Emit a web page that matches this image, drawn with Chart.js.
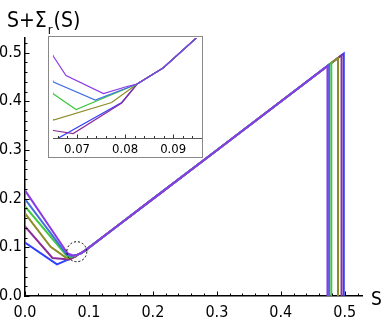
<!DOCTYPE html>
<html><head><meta charset="utf-8">
<script src="https://cdn.jsdelivr.net/npm/chart.js@4.4.0/dist/chart.umd.min.js"></script>
<style>
html,body{margin:0;padding:0;background:#fff;}
#wrap{position:relative;width:382px;height:326px;}
#main{position:absolute;left:0;top:0;}
#inset{position:absolute;left:48px;top:36px;background:#fff;}
</style></head><body>
<div id="wrap">
<canvas id="main" width="382" height="326"></canvas>
<canvas id="inset" width="155" height="122"></canvas>
</div>
<script>
// S + Sigma_r(S) curves
const FONT = "'Liberation Sans Narrow', 'DejaVu Sans Condensed', 'Liberation Sans', sans-serif";

// common branch after the curves meet
const tailS = [0.0825, 0.0879, 0.0948, 0.11, 0.15, 0.2, 0.3, 0.4];
const tailY = [0.085, 0.0882, 0.0942, 0.1095, 0.1495, 0.1995, 0.2995, 0.3995];

// left branches
const violetS = [0, 0.0651, 0.0677, 0.0755, 0.0804];
const violetY = [0.217, 0.0905, 0.0867, 0.0831, 0.0845];
const blue2S  = [0, 0.0651, 0.0738];
const blue2Y  = [0.199, 0.0854, 0.0818];
const greenS  = [0, 0.0651, 0.0698];
const greenY  = [0.184, 0.083, 0.0799];
const oliveS  = [0, 0.04, 0.0651, 0.0772];
const oliveY  = [0.170, 0.101, 0.0778, 0.0813];
const purpleS = [0, 0.043, 0.0651, 0.0692, 0.0793];
const purpleY = [0.143, 0.078, 0.0757, 0.0751, 0.0812];
const blueS   = [0, 0.05, 0.0654, 0.0793];
const blueY   = [0.110, 0.065, 0.0738, 0.0813];

// where each curve drops to zero (violet, blue2, green, olive, purple, blue)
const dropS   = [0.473, 0.4755, 0.479, 0.4895, 0.495, 0.4985];
const dropTop = [0.4725, 0.475, 0.4785, 0.489, 0.4945, 0.498];

// first one is drawn on top
const seriesS = [violetS, blue2S, greenS, oliveS, purpleS, blueS];
const seriesY = [violetY, blue2Y, greenY, oliveY, purpleY, blueY];
const colors = ['#8b3ae6', '#4070e0', '#40c840', '#8c8c28', '#8a2d9a', '#3040ff'];

const zoomSpot = [0.081, 0.091];

function buildPoints(i) {
  const pts = [];
  seriesS[i].forEach((s, k) => pts.push({x: s, y: seriesY[i][k]}));
  tailS.forEach((s, k) => pts.push({x: s, y: tailY[k]}));
  pts.push({x: dropS[i], y: dropTop[i]});
  pts.push({x: dropS[i], y: 0});
  return pts;
}

function makeDatasets(width) {
  return seriesS.map((s, i) => ({
    data: buildPoints(i),
    showLine: true,
    borderColor: colors[i],
    backgroundColor: colors[i],
    borderWidth: width,
    pointRadius: 0,
    tension: 0
  }));
}

// inward ticks like the original
const axisTicks = {
  id: 'axisTicks',
  afterDraw(chart, args, o) {
    const ctx = chart.ctx;
    const a = chart.chartArea;
    ctx.save();
    ctx.strokeStyle = o.color;
    ctx.lineWidth = 1;
    ctx.beginPath();
    const xs = chart.scales.x;
    for (let i = Math.ceil(xs.min / o.xMinor - 1e-6); i * o.xMinor <= xs.max + 1e-9; i++) {
      const v = i * o.xMinor;
      const major = Math.abs(v / o.xMajor - Math.round(v / o.xMajor)) < 1e-6;
      const px = Math.round(xs.getPixelForValue(v)) + 0.5;
      ctx.moveTo(px, a.bottom);
      ctx.lineTo(px, a.bottom - (major ? o.major : o.minor));
    }
    if (o.yMinor) {
      const ys = chart.scales.y;
      for (let i = 0; i * o.yMinor <= ys.max + 1e-9; i++) {
        const v = i * o.yMinor;
        const major = i % 5 === 0;
        const py = Math.round(ys.getPixelForValue(v)) + 0.5;
        ctx.moveTo(a.left, py);
        ctx.lineTo(a.left + (major ? o.major : o.minor), py);
      }
    }
    ctx.stroke();
    ctx.restore();
  }
};

const decorations = {
  id: 'decorations',
  afterDraw(chart) {
    const ctx = chart.ctx;
    ctx.save();
    ctx.fillStyle = '#000';
    ctx.textBaseline = 'alphabetic';
    ctx.font = '21px ' + FONT;
    ctx.fillText('S+Σ', 7, 27);
    let x = 7 + ctx.measureText('S+Σ').width + 1;
    ctx.font = '13px ' + FONT;
    ctx.fillText('r', x, 34);
    x += ctx.measureText('r').width + 1;
    ctx.font = '21px ' + FONT;
    ctx.fillText('(S)', x, 27);
    ctx.font = '19px ' + FONT;
    ctx.fillText('S', 371, 305);
    // dashed circle at the zoomed spot
    const cx = chart.scales.x.getPixelForValue(zoomSpot[0]);
    const cy = chart.scales.y.getPixelForValue(zoomSpot[1]);
    ctx.strokeStyle = '#000';
    ctx.lineWidth = 1;
    ctx.setLineDash([2, 2]);
    ctx.beginPath();
    ctx.arc(cx, cy, 10, 0, Math.PI * 2);
    ctx.stroke();
    ctx.restore();
  }
};

const frame = {
  id: 'frame',
  afterDraw(chart) {
    const ctx = chart.ctx;
    ctx.save();
    ctx.strokeStyle = '#888';
    ctx.lineWidth = 1;
    ctx.strokeRect(0.5, 0.5, chart.width - 1, chart.height - 1);
    ctx.restore();
  }
};

var mainChart = new Chart(document.getElementById('main').getContext('2d'), {
  type: 'scatter',
  data: {datasets: makeDatasets(2)},
  options: {
    responsive: false,
    animation: false,
    layout: {padding: {left: 0, right: 20, top: 38, bottom: 0}},
    plugins: {
      legend: {display: false},
      tooltip: {enabled: false},
      axisTicks: {color: '#000', xMinor: 0.02, xMajor: 0.1, yMinor: 0.02, major: 4.5, minor: 2.5}
    },
    scales: {
      x: {
        type: 'linear', min: 0, max: 0.527,
        grid: {display: false, drawTicks: false},
        border: {display: true, color: '#000', width: 1.5},
        ticks: {stepSize: 0.1, includeBounds: false, autoSkip: false, maxRotation: 0, padding: 7,
                color: '#000', font: {family: FONT, size: 16}, callback: v => v.toFixed(1)},
        afterFit: s => { s.height = 30; }
      },
      y: {
        type: 'linear', min: 0, max: 0.53,
        grid: {display: false, drawTicks: false},
        border: {display: true, color: '#000', width: 1.5},
        ticks: {stepSize: 0.1, includeBounds: false, autoSkip: false, padding: 3,
                color: '#000', font: {family: FONT, size: 16}, callback: v => v.toFixed(1)},
        afterFit: s => { s.width = 25; }
      }
    }
  },
  plugins: [axisTicks, decorations]
});

var insetChart = new Chart(document.getElementById('inset').getContext('2d'), {
  type: 'scatter',
  data: {datasets: makeDatasets(1.2)},
  options: {
    responsive: false,
    animation: false,
    layout: {padding: {left: 5, right: 1, top: 2, bottom: 0}},
    plugins: {
      legend: {display: false},
      tooltip: {enabled: false},
      axisTicks: {color: '#333', xMinor: 0.002, xMajor: 0.01, yMinor: 0, major: 3.5, minor: 2}
    },
    scales: {
      x: {
        type: 'linear', min: 0.065, max: 0.096,
        grid: {display: false, drawTicks: false},
        border: {display: true, color: '#555', width: 1},
        ticks: {stepSize: 0.01, includeBounds: false, autoSkip: false, maxRotation: 0, padding: 4,
                color: '#000', font: {family: FONT, size: 13}, callback: v => v.toFixed(2)},
        afterFit: s => { s.height = 20; }
      },
      y: {type: 'linear', min: 0.0742, max: 0.0942, display: false}
    }
  },
  plugins: [axisTicks, frame]
});
</script>
</body></html>
